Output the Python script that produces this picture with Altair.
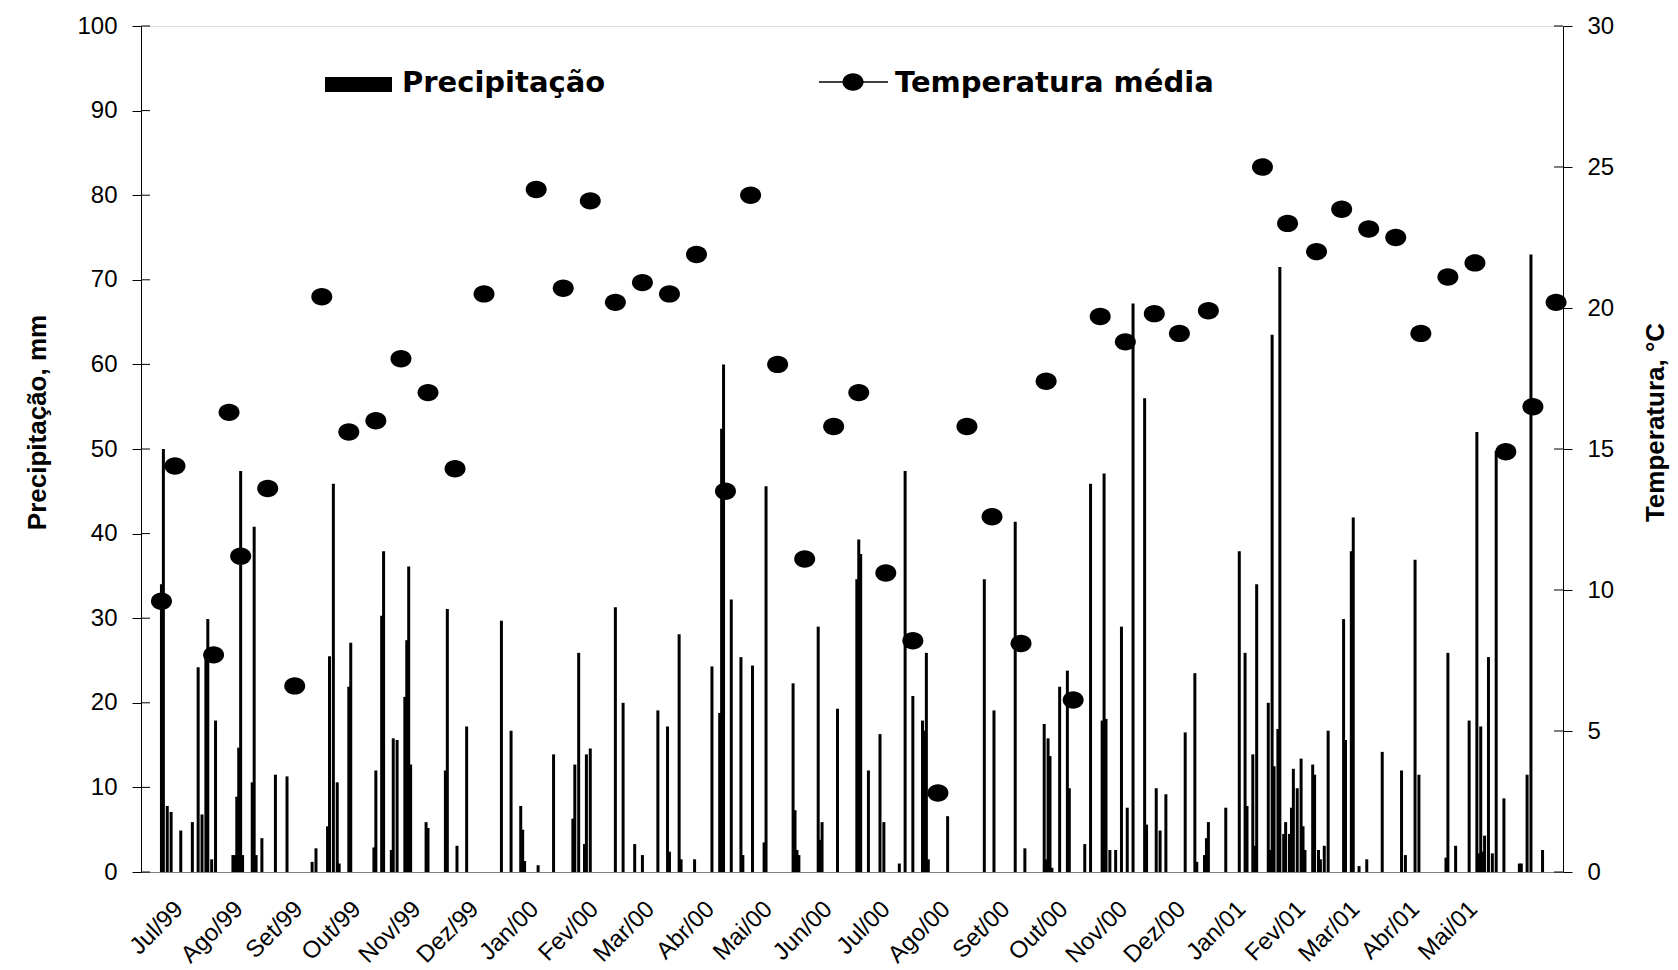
import altair as alt
import pandas as pd

# ---------------- data ----------------
# daily precipitation: day offset since 1999-07-01, value in mm
chuva_dia = [8, 9, 11, 13, 18, 24, 27, 29, 31, 32, 34, 36,
             45, 46, 47, 48, 49, 50, 55, 56, 57, 60, 67, 73,
             86, 88, 94, 95, 97, 99, 100, 105, 106,
             118, 119, 122, 123, 127, 128, 130, 134, 135, 136, 137,
             145, 146, 155, 156, 161, 166,
             184, 189, 194, 195, 196, 203, 211,
             221, 222, 224, 227, 228, 230, 243, 247, 253, 257,
             265, 270, 271, 276, 277, 284, 293, 297, 298, 299,
             303, 308, 309, 314, 320, 321, 335, 336, 337, 338,
             348, 349, 350, 358, 368, 369, 370, 374, 380, 382,
             390, 393, 397, 402, 403, 404, 405, 415, 434, 439,
             450, 455, 465, 466, 467, 468, 469, 473, 477, 478,
             486, 489, 495, 496, 497, 499, 502, 505, 508, 511,
             517, 518, 523, 525, 528, 538, 543, 544, 548, 549, 550,
             559, 566, 569, 570, 573, 574, 575, 581, 582, 583, 584,
             586, 587, 589, 590, 592, 593, 594, 596, 598, 599, 600,
             604, 605, 607, 608, 610, 612, 620, 621, 624, 625, 628,
             632, 640, 650, 652, 657, 659, 673, 674, 678, 685,
             689, 690, 691, 692, 693, 695, 697, 699, 703, 711, 712,
             715, 717, 723]
chuva_mm = [34.0, 50.0, 7.8, 7.1, 4.9, 5.9, 24.2, 6.8, 25.6, 29.9, 1.5, 17.9,
            2.0, 2.0, 8.9, 14.7, 47.4, 2.0, 10.6, 40.8, 2.0, 4.0, 11.5, 11.3,
            1.2, 2.8, 5.4, 25.5, 45.9, 10.6, 1.0, 21.9, 27.1,
            2.9, 12.0, 30.3, 37.9, 2.6, 15.8, 15.6, 20.7, 27.4, 36.1, 12.7,
            5.9, 5.2, 12.0, 31.1, 3.1, 17.2,
            29.7, 16.7, 7.8, 5.0, 1.3, 0.8, 13.9,
            6.3, 12.7, 25.9, 3.3, 13.9, 14.6, 31.3, 20.0, 3.3, 2.0,
            19.1, 17.2, 2.4, 28.1, 1.5, 1.5, 24.3, 18.8, 52.4, 60.0,
            32.2, 25.4, 2.0, 24.4, 3.5, 45.6, 22.3, 7.3, 2.6, 2.0,
            29.0, 3.8, 5.9, 19.3, 34.6, 39.3, 37.6, 12.0, 16.3, 5.9,
            1.0, 47.4, 20.8, 17.9, 16.7, 25.9, 1.5, 6.6, 34.6, 19.1,
            41.4, 2.8, 17.5, 1.5, 15.8, 13.7, 0.5, 21.9, 23.8, 9.9,
            3.3, 45.9, 17.9, 47.1, 18.1, 2.6, 2.6, 29.0, 7.6, 67.2,
            56.0, 5.6, 9.9, 4.9, 9.2, 16.5, 23.5, 1.2, 2.0, 4.0, 5.9,
            7.6, 37.9, 25.9, 7.8, 13.9, 3.1, 34.0, 20.0, 2.6, 63.5, 12.5,
            16.9, 71.5, 4.5, 5.9, 4.5, 7.6, 12.2, 9.9, 13.4, 5.4, 2.6,
            12.7, 11.5, 2.6, 1.5, 3.1, 16.7, 29.9, 15.6, 37.9, 41.9, 0.7,
            1.5, 14.2, 12.0, 2.0, 36.9, 11.5, 1.7, 25.9, 3.1, 17.9,
            52.0, 2.2, 17.2, 2.4, 4.3, 25.4, 2.2, 49.8, 8.7, 1.0, 1.0,
            11.5, 73.0, 2.6]

# mean temperature (°C): day offset since 1999-07-01
temp_dia = [8, 15, 35, 43, 49, 63, 77, 91, 105, 119, 132, 146, 160, 175,
            202, 216, 230, 243, 257, 271, 285, 300, 313, 327, 341, 356,
            369, 383, 397, 410, 425, 438, 453, 466, 480, 494, 507, 522,
            535, 550, 578, 591, 606, 619, 633, 647, 660, 674, 688, 704,
            718, 730]
temp_c = [9.6, 14.4, 7.7, 16.3, 11.2, 13.6, 6.6, 20.4, 15.6, 16.0, 18.2, 17.0,
          14.3, 20.5, 24.2, 20.7, 23.8, 20.2, 20.9, 20.5, 21.9, 13.5, 24.0,
          18.0, 11.1, 15.8, 17.0, 10.6, 8.2, 2.8, 15.8, 12.6, 8.1, 17.4, 6.1,
          19.7, 18.8, 19.8, 19.1, 19.9, 25.0, 23.0, 22.0, 23.5, 22.8, 22.5,
          19.1, 21.1, 21.6, 14.9, 16.5, 20.2]

meses = ["Jan", "Fev", "Mar", "Abr", "Mai", "Jun",
         "Jul", "Ago", "Set", "Out", "Nov", "Dez"]
# months that carry a label (year, month)
meses_rotulo = [(1999, m) for m in range(7, 13)] + [(2000, m) for m in range(1, 13)] + \
               [(2001, m) for m in range(1, 6)]
ticks_prec = [0, 10, 20, 30, 40, 50, 60, 70, 80, 90, 100]
ticks_temp = [0, 5, 10, 15, 20, 25, 30]
legenda = ["Precipitação", "Temperatura média"]
titulos = ["Precipitação, mm", "Temperatura, °C"]

# ---------------- tables ----------------
base = pd.Timestamp("1999-07-01")
df_chuva = pd.DataFrame({
    "data": [(base + pd.Timedelta(days=d)).strftime("%Y-%m-%d") for d in chuva_dia],
    "mm": chuva_mm,
})
df_temp = pd.DataFrame({
    "data": [(base + pd.Timedelta(days=d)).strftime("%Y-%m-%d") for d in temp_dia],
    "t": temp_c,
})
df_tp = pd.DataFrame({"v": ticks_prec})
df_tt = pd.DataFrame({"v": ticks_temp})

W, H = 1422, 846
FONT = "Liberation Sans"
LEG_FONT = "DejaVu Sans"
ELLIPSE = "M-1,0A1,0.83,0,1,0,1,0A1,0.83,0,1,0,-1,0Z"

xvals = [alt.DateTime(year=y, month=m, date=15, utc=True) for (y, m) in meses_rotulo]
month_arr = "[" + ",".join("'%s'" % m for m in meses) + "]"
xscale = alt.Scale(type="utc",
                   domain=[alt.DateTime(year=1999, month=7, date=1, utc=True),
                           alt.DateTime(year=2001, month=7, date=1, utc=True)])
xaxis = alt.Axis(values=xvals, title=None, ticks=False, grid=False,
                 labelExpr=month_arr + "[utcmonth(datum.value)] + '/' + utcFormat(datum.value, '%y')",
                 labelAngle=-45, labelAlign="right", labelBaseline="middle",
                 labelPadding=33, labelOffset=6, labelFontSize=24, labelFont=FONT,
                 labelColor="black", labelOverlap=False, labelFlush=False,
                 domainColor="#808080", domainWidth=1)

yscale_p = alt.Scale(domain=[0, 100], nice=False, zero=True)
yscale_t = alt.Scale(domain=[0, 30], nice=False, zero=True)

axis_p = alt.Axis(orient="left", values=ticks_prec, grid=False, title=titulos[0],
                  titleFont=FONT, titleFontSize=26, titleFontWeight="bold", titleColor="black",
                  titleAngle=-90, titleX=-104, titleY=396, titleAlign="center",
                  titleBaseline="middle",
                  labelFont=FONT, labelFontSize=24, labelColor="black", labelPadding=15,
                  tickSize=9, tickColor="black", domainColor="black")
axis_t = alt.Axis(orient="right", values=ticks_temp, grid=False, title=titulos[1],
                  titleFont=FONT, titleFontSize=26, titleFontWeight="bold", titleColor="black",
                  titleAngle=-90, titleX=92, titleY=396, titleAlign="center",
                  titleBaseline="middle",
                  labelFont=FONT, labelFontSize=24, labelColor="black", labelPadding=15,
                  tickSize=9, tickColor="black", domainColor="black")

barras = alt.Chart(df_chuva).mark_bar(size=3.0, color="black").encode(
    x=alt.X("data:T", scale=xscale, axis=xaxis),
    y=alt.Y("mm:Q", scale=yscale_p, axis=axis_p),
)
pontos = alt.Chart(df_temp).mark_point(shape=ELLIPSE, size=441, filled=True,
                                       color="black", opacity=1).encode(
    x=alt.X("data:T", scale=xscale, axis=xaxis),
    y=alt.Y("t:Q", scale=yscale_t, axis=axis_t),
)
# inner halves of the crossing tick marks
ticks_esq = alt.Chart(df_tp).mark_rule(color="black", strokeWidth=1).encode(
    y=alt.Y("v:Q", scale=yscale_p, axis=None),
    x=alt.value(0), x2=alt.value(9),
)
ticks_dir = alt.Chart(df_tt).mark_rule(color="black", strokeWidth=1).encode(
    y=alt.Y("v:Q", scale=yscale_t, axis=None),
    x=alt.value(W - 9), x2=alt.value(W),
)

# legend drawn by hand
df_l1 = pd.DataFrame({"rotulo": [legenda[0]]})
df_l2 = pd.DataFrame({"rotulo": [legenda[1]]})
leg_rect = alt.Chart(df_l1).mark_rect(color="black").encode(
    x=alt.value(184), x2=alt.value(251), y=alt.value(51), y2=alt.value(66))
leg_txt1 = alt.Chart(df_l1).mark_text(align="left", baseline="alphabetic", font=LEG_FONT,
                                      fontSize=29, fontWeight="bold", color="black").encode(
    x=alt.value(261), y=alt.value(66), text="rotulo:N")
leg_line = alt.Chart(df_l2).mark_rule(color="black", strokeWidth=1.5).encode(
    x=alt.value(678), x2=alt.value(747), y=alt.value(56))
leg_pt = alt.Chart(df_l2).mark_point(shape=ELLIPSE, size=441, filled=True,
                                     color="black", opacity=1).encode(
    x=alt.value(712), y=alt.value(56))
leg_txt2 = alt.Chart(df_l2).mark_text(align="left", baseline="alphabetic", font=LEG_FONT,
                                      fontSize=29, fontWeight="bold", color="black").encode(
    x=alt.value(754), y=alt.value(66), text="rotulo:N")

chart = alt.layer(barras, pontos, ticks_esq, ticks_dir,
                  leg_rect, leg_txt1, leg_line, leg_pt, leg_txt2).resolve_scale(
    y="independent"
).properties(
    width=W, height=H,
    autosize=alt.AutoSizeParams(type="none"),
    padding={"left": 141, "top": 26, "right": 115, "bottom": 98},
    background="white",
).configure_view(
    stroke="#808080", strokeWidth=1
).configure(font=FONT)

chart.save("out.html", embed_options={"renderer": "svg", "actions": False})
